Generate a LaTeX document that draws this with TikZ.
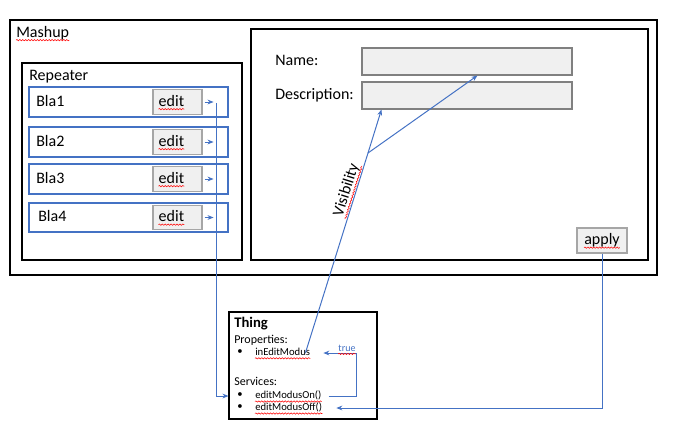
\documentclass[tikz,border=0pt]{standalone}
\usepackage{fontspec}
\setmainfont{Carlito}
\usetikzlibrary{fit,calc,arrows.meta,decorations.pathmorphing}

\definecolor{bluconn}{HTML}{4472C4}
\definecolor{grigiobott}{HTML}{F0F0F0}
\definecolor{bordobott}{HTML}{A6A6A6}
\definecolor{bordocampo}{HTML}{808080}

\begin{document}
\begin{tikzpicture}[x=0.75pt, y=-0.75pt, >={Stealth[length=4.5pt, width=3.6pt]},
    contenitore/.style={draw=black, line width=0.9pt, inner sep=0pt},
    riga/.style={draw=bluconn, line width=0.8pt, inner sep=0pt},
    bottone/.style={draw=bordobott, fill=grigiobott, line width=0.8pt, inner sep=0pt},
    campo/.style={draw=bordocampo, fill=grigiobott, line width=0.8pt, inner sep=0pt},
    testo/.style={font=\fontsize{12}{14}\selectfont, inner sep=0pt, text depth=0.2em},
    titolo/.style={font=\bfseries\fontsize{11}{13}\selectfont, inner sep=0pt},
    sezione/.style={font=\fontsize{9}{11}\selectfont, inner sep=0pt},
    voce/.style={font=\fontsize{8}{10}\selectfont, inner sep=0pt, text depth=0.2em},
    etichetta/.style={font=\fontsize{7.5}{9}\selectfont, text=bluconn, inner sep=0pt, text depth=0.2em},
    freccia/.style={draw=bluconn, line width=0.75pt, ->},
    ondina/.style={draw=red, line width=0.4pt, decorate,
        decoration={snake, amplitude=0.5pt, segment length=2.2pt}}]

        \useasboundingbox (0,0) rectangle (673,440);

        % Contenitore Mashup
        \node[contenitore, fit={(10,20) (657,275)}] (mashup) {};
        \node[testo, anchor=west] (tmashup) at (16,33) {Mashup};

        % Repeater con le righe
        \node[contenitore, fit={(22,63) (242,260)}] (repeater) {};
        \node[testo, anchor=west] (trepeater) at (29,77) {Repeater};

        \foreach \i/\ya/\yb/\xt in {1/87/117/36, 2/127/157/36, 3/164/194/36, 4/203/232/38} {
            \node[riga, fit={(29,\ya) (228,\yb)}] (riga\i) {};
            \node[testo, anchor=west] (bla\i) at (\xt, {(\ya+\yb)/2}) {Bla\i};
            \node[bottone, fit={(153,\ya+2.5) (202,\yb-2.5)}] (bott\i) {};
            \node[testo, anchor=west] (edit\i) at ($(bott\i.west)+(6,0)$) {edit};
            \draw[freccia] ($(bott\i.east)+(2,0)$) -- ($(bott\i.east)+(11,0)$);
        }

        % Pannello di modifica
        \node[contenitore, fit={(251,29) (648,260)}] (pannello) {};
        \node[testo, anchor=west] (tnome) at (275,62) {Name:};
        \node[campo, fit={(362,48) (572,75)}] (campoNome) {};
        \node[testo, anchor=west] (tdesc) at (275,95) {Description:};
        \node[campo, fit={(362,82) (572,109)}] (campoDesc) {};
        \node[bottone, fit={(577,228) (627,253)}] (bottApply) {};
        \node[testo] (apply) at (bottApply.center) {apply};

        % Thing
        \node[contenitore, line width=0.8pt, fit={(229,312) (377,419)}] (thing) {};
        \node[titolo, anchor=west] (tthing) at (234,324) {Thing};
        \node[sezione, anchor=west] (prop) at (234,340) {Properties:};
        \node[voce, anchor=west] (punto1) at (237,353) {\textbullet};
        \node[voce, anchor=west] (ied) at (255,353) {inEditModus};
        \node[sezione, anchor=west] (serv) at (234,381) {Services:};
        \node[voce, anchor=west] (punto2) at (237,396) {\textbullet};
        \node[voce, anchor=west] (emon) at (255,396) {editModusOn()};
        \node[voce, anchor=west] (punto3) at (237,408) {\textbullet};
        \node[voce, anchor=west] (emoff) at (255,408) {editModusOff()};

        % Collegamenti
        \coordinate (giu) at (216,103);
        \draw[freccia] (giu) |- (thing.west |- emon.center);

        \coordinate (bivio) at (368,153);
        \draw[freccia] ($(ied.east)+(-5,0)$) -- node[testo, pos=0.8, sloped, above=1.5pt] (vis) {Visibility} (bivio)
            -- ($(campoDesc.south west)+(20,0)$);
        \draw[freccia] (bivio) -- ($(campoNome.south west)+(116,0)$);

        \coordinate (angolo) at (356,353);
        \draw[freccia] ($(emon.east)+(7,0)$) -| (angolo) -- ($(ied.east)+(13,0)$);
        \node[etichetta, anchor=base] (vero) at (347,351) {true};

        \draw[freccia] (bottApply.south) |- ($(emoff.east)+(14,0)$);

        % Sottolineature del correttore
        \foreach \n in {tmashup, edit1, edit2, edit3, edit4, vis, apply, ied, emon, emoff, vero}
            \draw[ondina] (\n.south west) -- (\n.south east);

    \end{tikzpicture}
\end{document}
